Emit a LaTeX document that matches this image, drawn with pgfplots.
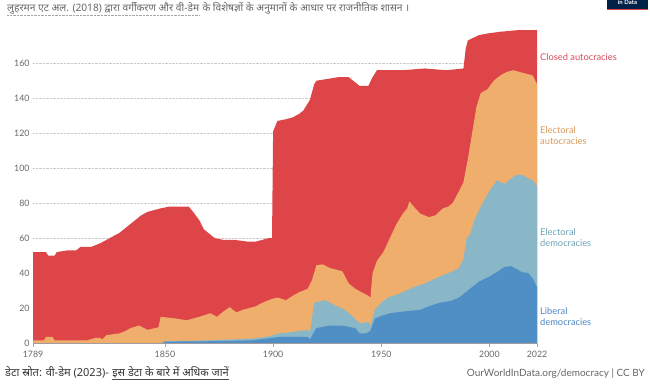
\documentclass[border=0pt]{standalone}
\usepackage{pgfplots}
\pgfplotsset{compat=1.18}
\usepackage{fontspec}
\setmainfont{Lato}
\newfontfamily\latofont{Lato}
\newfontfamily\devfont[Script=Devanagari]{Noto Sans}
\definecolor{cred}{HTML}{DE4548}
\definecolor{corange}{HTML}{EFAE6C}
\definecolor{clblue}{HTML}{8AB7C8}
\definecolor{cdblue}{HTML}{4F8FC6}
\definecolor{tred}{HTML}{D94A5B}
\definecolor{torange}{HTML}{D99A5E}
\definecolor{tlblue}{HTML}{6FA2B6}
\definecolor{tdblue}{HTML}{4B84C0}
\definecolor{tgray}{HTML}{666666}
\definecolor{navy}{HTML}{002147}
\begin{document}
\begin{tikzpicture}[x=1pt,y=1pt]
\path[use as bounding box] (0,0) rectangle (650,384);
\begin{axis}[
  at={(33pt,41pt)}, anchor=south west,
  scale only axis, width=504pt, height=313pt,
  xmin=1789, xmax=2022, ymin=0, ymax=179,
  xtick={1789,1850,1900,1950,2000,2022},
  ytick={0,20,...,160},
  axis x line*=bottom, axis y line*=left,
  y axis line style={draw=none},
  x axis line style={draw=gray!70},
  ytick style={draw=none},
  xtick style={draw=gray!70},
  xtick align=outside, tick pos=lower,
  major tick length=4pt,
  ymajorgrids, grid style={densely dotted, draw=gray!40},
  /pgf/number format/1000 sep={},
  /pgf/number format/assume math mode=true,
  tick label style={font=\latofont\fontsize{8.8}{10}\selectfont, text=tgray},
  xticklabel style={yshift=-1pt},
  clip=false,
]
% Closed autocracies (total)
\addplot[fill=cred, draw=none] table[row sep=\\] {
x y\\
1789 52\\ 1795 52\\ 1796 50\\ 1799 50\\ 1800 52\\ 1805 53\\ 1809 53\\ 1811 55\\ 1816 55\\ 1820 57\\ 1823 59\\ 1826 61\\ 1829 63\\ 1832 66\\ 1834 68\\ 1837 71\\ 1839 73\\ 1842 75\\ 1845 76\\ 1848 77\\ 1852 78\\ 1858 78\\ 1861 78\\ 1863 75\\ 1866 70\\ 1868 65\\ 1870 63\\ 1873 60\\ 1877 59\\ 1882 59\\ 1888 58\\ 1892 58\\ 1895 59\\ 1898 60\\ 1899.5 60\\ 1900 121\\ 1902 127\\ 1906 128\\ 1909 129\\ 1912 131\\ 1914 133\\ 1916 137\\ 1917 139\\ 1919 148\\ 1920 150\\ 1925 151\\ 1930 152\\ 1935 152\\ 1937 150\\ 1940 147\\ 1944 147\\ 1946 152\\ 1948 156\\ 1960 156\\ 1970 157\\ 1980 156\\ 1988 157\\ 1989 168\\ 1990 173\\ 1995 176\\ 1999 177\\ 2005 178\\ 2014 179\\ 2022 179\\
} \closedcycle;
% Electoral autocracies (cumulative)
\addplot[fill=corange, draw=none] table[row sep=\\] {
x y\\
1789 1.5\\ 1794 1.5\\ 1795 3.5\\ 1798 3.5\\ 1799 1.5\\ 1814 1.5\\ 1818 3\\ 1820 3\\ 1821 2\\ 1823 4.5\\ 1826 5\\ 1829 5.5\\ 1832 7\\ 1834 8.5\\ 1838 10\\ 1842 7.5\\ 1847 9\\ 1848 15\\ 1855 14\\ 1860 13\\ 1866 15\\ 1871 17\\ 1874 15\\ 1877 18\\ 1880 20.5\\ 1883 17.5\\ 1886 19\\ 1889 20\\ 1892 21\\ 1895 23\\ 1899 25\\ 1902 26\\ 1906 24.5\\ 1909 27\\ 1912 29\\ 1916 31\\ 1918 36\\ 1920 44.5\\ 1923 45\\ 1926 43\\ 1929 42\\ 1932 41\\ 1935 34\\ 1938 31\\ 1941 29\\ 1944 27\\ 1945 26\\ 1946 40\\ 1948 47\\ 1951 52\\ 1954 60\\ 1957 68\\ 1960 74\\ 1962 77\\ 1963 81\\ 1965 78\\ 1968 74\\ 1972 72\\ 1975 73\\ 1978.5 77\\ 1981 78\\ 1983 80\\ 1986 87\\ 1988 92\\ 1990 105\\ 1992 120\\ 1994 135\\ 1996 143\\ 1999 145\\ 2002 150\\ 2005 153\\ 2008 155\\ 2011 156\\ 2017 154\\ 2020 153\\ 2022 148\\
} \closedcycle;
% Electoral democracies (cumulative)
\addplot[fill=clblue, draw=none] table[row sep=\\] {
x y\\
1789 0\\ 1848 0\\ 1850 1\\ 1870 1.5\\ 1890 2.5\\ 1897 3.5\\ 1903 5.5\\ 1910 6.5\\ 1916 7.5\\ 1917 6\\ 1919 23\\ 1924 24.5\\ 1928 22\\ 1933 19\\ 1936 16\\ 1940 11.4\\ 1944 12\\ 1945 10\\ 1947 19\\ 1950 23\\ 1953 26\\ 1958 28\\ 1965 32\\ 1970 34\\ 1977 38\\ 1983 41\\ 1986 43\\ 1988 48\\ 1989.5 60\\ 1991 62\\ 1993 70\\ 1996 78\\ 2000 87\\ 2003.5 93\\ 2007 91\\ 2010 94\\ 2012 96\\ 2015.5 96\\ 2018 94\\ 2020 93\\ 2022 90\\
} \closedcycle;
% Liberal democracies
\addplot[fill=cdblue, draw=none] table[row sep=\\] {
x y\\
1789 0\\ 1849 0\\ 1850 0.8\\ 1870 1\\ 1890 1.5\\ 1900 3\\ 1903 3.5\\ 1916 3.5\\ 1917 2\\ 1920 8.5\\ 1926 10\\ 1932 10\\ 1938 8.5\\ 1940 5.5\\ 1943 5.5\\ 1945 7\\ 1947 14\\ 1950 15.5\\ 1954 17\\ 1960 18\\ 1968 19\\ 1972 21\\ 1977 23\\ 1982 24\\ 1986 26\\ 1990 30\\ 1995 35\\ 2000 38\\ 2004 41\\ 2007 43.5\\ 2010 44\\ 2013 42\\ 2015 40.5\\ 2018 40\\ 2020 37\\ 2022 32\\
} \closedcycle;
\end{axis}
% right labels
\begin{scope}[every node/.style={anchor=west, align=left, inner sep=0pt, font=\latofont\fontsize{9.3}{11}\selectfont}]
\node[text=tred] at (540,327) {Closed autocracies};
\node[text=torange] at (540,248.5) {Electoral\\autocracies};
\node[text=tlblue] at (540,146.5) {Electoral\\democracies};
\node[text=tdblue] at (540,67.5) {Liberal\\democracies};
\end{scope}
% title
\node[anchor=base west, inner sep=0pt, text=tgray, font=\devfont\fontsize{10.2}{12}\selectfont] (t1) at (7,372) {लुहरमन एट अल. (2018) द्वारा वर्गीकरण और वी-डेम};
\node[anchor=base west, inner sep=0pt, text=tgray, font=\devfont\fontsize{10.2}{12}\selectfont] at ([xshift=3pt]t1.base east) {के विशेषज्ञों के अनुमानों के आधार पर राजनीतिक शासन ।};
\draw[densely dotted, gray!70] ([yshift=-3pt]t1.base west) -- ([yshift=-3pt]t1.base east);
% logo
\fill[navy] (607,375) rectangle (648,384);
\fill[cred] (607,373.5) rectangle (648,375);
\node[text=white, font=\latofont\bfseries\fontsize{6}{7}\selectfont, inner sep=0pt] at (627.5,382) {in Data};
% footer
\node[anchor=base west, inner sep=0pt, text=black!80, font=\devfont\fontsize{11}{13}\selectfont] (f1) at (5,8) {\textbf{डेटा स्रोत:} वी-डेम (2023)-};
\node[anchor=base west, inner sep=0pt, text=black!80, font=\devfont\fontsize{11}{13}\selectfont] (f2) at ([xshift=3pt]f1.base east) {इस डेटा के बारे में अधिक जानें};
\draw[black!70, line width=0.5pt] ([yshift=-3pt]f2.base west) -- ([yshift=-3pt]f2.base east);
\node[anchor=base east, inner sep=0pt, text=tgray, font=\latofont\fontsize{10}{12}\selectfont] at (645,8) {OurWorldInData.org/democracy | CC BY};
\end{tikzpicture}
\end{document}
